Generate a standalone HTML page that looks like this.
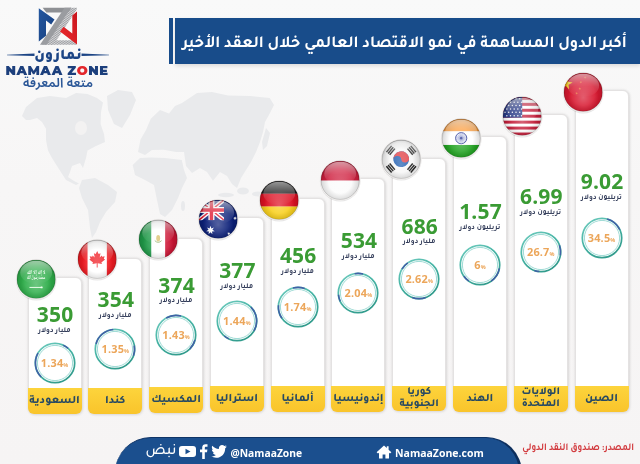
<!DOCTYPE html>
<html lang="ar"><head><meta charset="utf-8"><title>أكبر الدول المساهمة في نمو الاقتصاد العالمي</title>
<style>
*{margin:0;padding:0;box-sizing:border-box}
html,body{width:640px;height:464px;overflow:hidden}
body{position:relative;background:linear-gradient(#f9f9f9,#f7f6f6 40%,#f6f4f4);font-family:"Tajawal", "Noto Sans Arabic", "DejaVu Sans", sans-serif}
.bg{position:absolute;left:0;top:0}
.card{position:absolute;width:54px;background:#fff;border:1px solid #e4e2e2;border-radius:6px 6px 6px 6px;box-shadow:0 0 3px rgba(0,0,0,.10),1px 1px 3px rgba(0,0,0,.08)}
.lab{position:absolute;left:-1px;right:-1px;bottom:-1px;background:linear-gradient(#fdd43c,#f9c42b);border-radius:0 0 6px 6px;display:flex;align-items:center;justify-content:center;text-align:center;color:#284a62;font-weight:700;direction:rtl}
.lab .one{font-size:11.4px;line-height:14px;font-weight:800;margin-top:2px}
.lab .two{font-size:10.8px;line-height:12.3px;font-weight:800;margin-top:1.5px}
.num{position:absolute;width:80px;text-align:center;font-family:"Open Sans", "Liberation Sans", sans-serif;font-weight:700;font-size:21px;line-height:26px;color:#3a9b34;letter-spacing:.2px}
.unit{position:absolute;width:80px;text-align:center;font-size:7.5px;line-height:10px;font-weight:700;color:#333d5a;direction:rtl}
.ring{position:absolute}
.pct{position:absolute;width:60px;text-align:center;font-family:"Open Sans", "Liberation Sans", sans-serif;font-weight:700;font-size:10.9px;line-height:18px;color:#eca65a;letter-spacing:.2px}
.pct small{font-size:5.5px;font-weight:700;letter-spacing:0}
.flag{position:absolute;overflow:visible}
.title{position:absolute;left:175px;top:18px;width:465px;height:45.5px;background:#184c8a;color:#fff;direction:rtl;font-family:"Tajawal","Noto Sans Arabic","DejaVu Sans",sans-serif;font-weight:700;font-size:16.7px;line-height:45px;padding-right:13px;padding-top:3.6px;white-space:nowrap;box-shadow:0 2px 4px rgba(0,0,0,.12)}
.tt{display:inline-block;transform:scaleX(.965);transform-origin:100% 50%}
.tstripe{position:absolute;left:169px;top:18px;width:4px;height:45.5px;background:#184c8a}
.footer{position:absolute;left:115px;top:437px;width:407px;height:40px;background:#1b4f8e;border-radius:36px 36px 0 0;border-top:1.5px solid #0f3466;border-right:3px solid #0d2e5c}
.ft{position:absolute;color:#fff;font-family:"Open Sans", "Liberation Sans", sans-serif;font-weight:700;white-space:nowrap}
.src{position:absolute;left:474px;top:440px;width:160px;text-align:right;direction:rtl;color:#d23a3e;font-size:10.6px;font-weight:700;line-height:18px;white-space:nowrap;transform:scaleX(.855);transform-origin:100% 50%}
.logo-t{position:absolute;white-space:nowrap}
</style></head><body>
<svg class="bg" width="640" height="464" viewBox="0 0 640 464">
<defs>
<radialGradient id="shade" cx="50%" cy="54%" r="54%"><stop offset="0.55" stop-color="#000" stop-opacity="0"/><stop offset="0.85" stop-color="#000" stop-opacity=".12"/><stop offset="1" stop-color="#000" stop-opacity=".32"/></radialGradient>
<radialGradient id="glowB" cx="50%" cy="64%" r="40%"><stop offset="0" stop-color="#fff" stop-opacity=".30"/><stop offset="1" stop-color="#fff" stop-opacity="0"/></radialGradient>
<linearGradient id="hl" x1="0" y1="0" x2="0" y2="1"><stop offset="0" stop-color="#fff" stop-opacity=".55"/><stop offset=".55" stop-color="#fff" stop-opacity=".18"/><stop offset="1" stop-color="#fff" stop-opacity="0"/></linearGradient>
<linearGradient id="ringg" x1="0" y1="0" x2="0.6" y2="1"><stop offset="0" stop-color="#72cdc0"/><stop offset=".5" stop-color="#47b4a5"/><stop offset="1" stop-color="#329c8d"/></linearGradient>
</defs>
<g fill="#e9eaec" style="filter:blur(.6px)">
<path d="M26,107 L37,98 L50,96 L66,98 L76,93 L87.5,94 L97,98 L103,102.5 L101,112 L100.6,124 L104,134 L105,142 L96,146 L87.5,150.6 L86,158 L83,168 L80,163 L72,166 L70,172 L68,177 L74,181 L79,183.4 L76,185 L66,180 L57,166 L52,158 L48,150.6 L46,140 L46,128.8 L42,122 L37,118 L30,120 L26,120 L22,116 Z"/>
<path d="M107,96 L118,90 L132,92 L136,100 L130,115 L122,128 L114,124 L108,110 Z"/>
<path d="M82,180 L95,178 L108,185 L117,192 L115,202 L106,212 L100,222 L96,232 L92,238 L90,228 L88,210 L82,198 L79,188 Z"/>
<path d="M138,152 L140.5,139.4 L146,130 L150.8,118.8 L160,110 L169,113.6 L175,106 L182,103 L197,93 L212,92 L228,95.5 L250,96 L269.7,98 L274,105 L270,113 L265,122 L263,132 L260,142 L256,152 L251,162 L246,170 L241,178 L237,188 L232,184 L227,176 L220,172 L213,180.8 L207,172 L200,168 L192,173 L186,166 L184,152 L176,152 L163.8,149.8 L152,150 L145,155 Z"/>
<ellipse cx="226" cy="195" rx="8" ry="2.2"/><ellipse cx="243" cy="191" rx="6" ry="3.5"/><ellipse cx="258" cy="194" rx="6" ry="2.5"/><path d="M266,128 L270,133 L267,146 L263,150 L262,142 Z"/>
<path d="M132.7,165 L140,158 L150.8,157.5 L165,158 L181.8,160 L184,170 L187,178 L182,188 L178,198 L172,210 L165,217 L160,214 L157,200 L154,185 L145,180 L135,175 Z"/>
<ellipse cx="183" cy="206" rx="2" ry="5"/>
<ellipse cx="81" cy="128" rx="6" ry="7" fill="#f3f2f2"/>

</g>
</svg>
<svg style="position:absolute;left:36px;top:4px" width="44" height="44" viewBox="36 4 44 44">
<defs><pattern id="hatch" width="1.6" height="1.6" patternUnits="userSpaceOnUse" patternTransform="rotate(-57)"><rect width="1.6" height="1.6" fill="#d6d6d8"/><rect width="0.8" height="1.6" fill="#9c9ea2"/></pattern>
<linearGradient id="lgb" x1="0" y1="0" x2="1" y2="1"><stop offset="0" stop-color="#2457a0"/><stop offset="1" stop-color="#173f7e"/></linearGradient>
<linearGradient id="lgr" x1="1" y1="0" x2="0" y2="1"><stop offset="0" stop-color="#c8161e"/><stop offset="1" stop-color="#ee2b2e"/></linearGradient></defs>
<polygon points="38.8,8.3 54.5,19.6 51.2,24.4 46,20.6 46,35.8 38.8,41.5" fill="url(#lgb)"/>
<polygon points="70,7.8 77,7.8 77,9 53.5,44.8 46.2,44.8" fill="url(#hatch)"/>
<polygon points="44.5,40.2 75,40.2 77,44.8 42,44.8" fill="url(#hatch)"/>
<polygon points="42.6,7.8 71,7.8 68,12.5 46.4,12.5" fill="#8e9094"/>
<polygon points="64.5,7.8 71,7.8 46.5,44.8 40,44.8" fill="#9a9ca0"/>
<polygon points="72.3,15.6 77,11.6 77,44.6 60,31.6 63.6,26.8 72.3,33.4" fill="url(#lgr)"/>
</svg>
<div class="logo-t" style="left:34px;top:47.5px;width:48px;text-align:center;direction:rtl;font-family:'Tajawal','Noto Sans Arabic','DejaVu Sans',sans-serif;font-weight:900;font-size:15px;line-height:18px;color:#1c4585">نمازون</div>
<svg style="position:absolute;left:0;top:50px" width="112" height="10" viewBox="0 50 112 10">
<polygon points="7,54.8 34.5,53.6 34.5,56 7,55.2" fill="#1c4585"/>
<polygon points="81.5,53.6 109,54.8 109,55.2 81.5,56" fill="#1c4585"/>

</svg>
<div class="logo-t" style="left:1px;top:62px;width:112px;text-align:center;font-family:'Montserrat','Liberation Sans',sans-serif;font-weight:900;font-size:13px;line-height:16px;color:#1c3f7c;letter-spacing:0.55px">NAMAA Z<span style="color:#e3262b">O</span>NE</div>
<div class="logo-t" style="left:18px;top:74.3px;width:80px;text-align:center;direction:rtl;font-family:'Noto Sans Arabic','DejaVu Sans',sans-serif;font-weight:600;font-size:13px;line-height:18px;color:#2b5797">متعة المعرفة</div>

<div class="tstripe"></div>
<div class="title"><span class="tt">أكبر الدول المساهمة في نمو الاقتصاد العالمي خلال العقد الأخير</span></div>
<div class="card" style="left:27.50px;top:277.25px;height:136.75px"><div class="lab" style="height:25.90px"><span class="one">السعودية</span></div></div>
<div class="card" style="left:88.28px;top:257.50px;height:156.50px"><div class="lab" style="height:26.25px"><span class="one">كندا</span></div></div>
<div class="card" style="left:149.06px;top:237.50px;height:175.90px"><div class="lab" style="height:26.40px"><span class="one">المكسيك</span></div></div>
<div class="card" style="left:209.84px;top:217.00px;height:195.10px"><div class="lab" style="height:26.00px"><span class="one">استراليا</span></div></div>
<div class="card" style="left:270.62px;top:198.00px;height:213.60px"><div class="lab" style="height:25.90px"><span class="one">ألمانيا</span></div></div>
<div class="card" style="left:331.40px;top:178.00px;height:233.50px"><div class="lab" style="height:25.90px"><span class="one">إندونيسيا</span></div></div>
<div class="card" style="left:392.18px;top:157.50px;height:253.80px"><div class="lab" style="height:25.70px"><span class="two">كوريا<br>الجنوبية</span></div></div>
<div class="card" style="left:452.96px;top:136.25px;height:275.25px"><div class="lab" style="height:25.90px"><span class="one">الهند</span></div></div>
<div class="card" style="left:513.74px;top:113.75px;height:297.95px"><div class="lab" style="height:26.10px"><span class="two">الولايات<br>المتحدة</span></div></div>
<div class="card" style="left:574.52px;top:89.75px;height:322.15px"><div class="lab" style="height:26.30px"><span class="one">الصين</span></div></div>
<div class="num" style="left:15.10px;top:301.00px">350</div>
<div class="unit" style="left:14.50px;top:325.80px">مليار دولار</div>
<svg class="ring" style="left:31.50px;top:339.70px" width="46" height="46" viewBox="-23 -23 46 46"><circle r="19.7" fill="none" stroke="url(#ringg)" stroke-width="1.7"/><circle r="17.6" fill="none" stroke="#9edbd5" stroke-width="1"/><g fill="none" stroke="#4062a6" stroke-width="1.6" stroke-linecap="butt"><path d="M-13.86,13.86 A19.6,19.6 0 0 1 -16.97,-9.80"/><path d="M8.28,-17.76 A19.6,19.6 0 0 1 13.11,-14.57"/></g></svg>
<div class="pct" style="left:24.50px;top:353.70px">1.34<small>%</small></div>
<div class="num" style="left:75.88px;top:286.25px">354</div>
<div class="unit" style="left:75.28px;top:311.05px">مليار دولار</div>
<svg class="ring" style="left:92.28px;top:325.80px" width="46" height="46" viewBox="-23 -23 46 46"><circle r="19.7" fill="none" stroke="url(#ringg)" stroke-width="1.7"/><circle r="17.6" fill="none" stroke="#9edbd5" stroke-width="1"/><g fill="none" stroke="#4062a6" stroke-width="1.6" stroke-linecap="butt"><path d="M-18.93,-5.07 A19.6,19.6 0 0 1 -1.71,-19.53"/><path d="M19.30,-3.40 A19.6,19.6 0 0 1 18.42,6.70"/></g></svg>
<div class="pct" style="left:85.28px;top:339.80px">1.35<small>%</small></div>
<div class="num" style="left:136.66px;top:271.50px">374</div>
<div class="unit" style="left:136.06px;top:296.30px">مليار دولار</div>
<svg class="ring" style="left:153.06px;top:311.90px" width="46" height="46" viewBox="-23 -23 46 46"><circle r="19.7" fill="none" stroke="url(#ringg)" stroke-width="1.7"/><circle r="17.6" fill="none" stroke="#9edbd5" stroke-width="1"/><g fill="none" stroke="#4062a6" stroke-width="1.6" stroke-linecap="butt"><path d="M-9.80,-16.97 A19.6,19.6 0 0 1 5.07,-18.93"/><path d="M18.93,5.07 A19.6,19.6 0 0 1 13.86,13.86"/></g></svg>
<div class="pct" style="left:146.06px;top:325.90px">1.43<small>%</small></div>
<div class="num" style="left:197.44px;top:256.75px">377</div>
<div class="unit" style="left:196.84px;top:281.55px">مليار دولار</div>
<svg class="ring" style="left:213.84px;top:298.00px" width="46" height="46" viewBox="-23 -23 46 46"><circle r="19.7" fill="none" stroke="url(#ringg)" stroke-width="1.7"/><circle r="17.6" fill="none" stroke="#9edbd5" stroke-width="1"/><g fill="none" stroke="#4062a6" stroke-width="1.6" stroke-linecap="butt"><path d="M13.86,-13.86 A19.6,19.6 0 0 1 16.97,9.80"/><path d="M-8.28,17.76 A19.6,19.6 0 0 1 -12.60,15.01"/></g></svg>
<div class="pct" style="left:206.84px;top:312.00px">1.44<small>%</small></div>
<div class="num" style="left:258.22px;top:242.00px">456</div>
<div class="unit" style="left:257.62px;top:266.80px">مليار دولار</div>
<svg class="ring" style="left:274.62px;top:284.10px" width="46" height="46" viewBox="-23 -23 46 46"><circle r="19.7" fill="none" stroke="url(#ringg)" stroke-width="1.7"/><circle r="17.6" fill="none" stroke="#9edbd5" stroke-width="1"/><g fill="none" stroke="#4062a6" stroke-width="1.6" stroke-linecap="butt"><path d="M-5.07,-18.93 A19.6,19.6 0 0 1 6.70,-18.42"/><path d="M-16.06,11.24 A19.6,19.6 0 0 1 -19.53,-1.71"/></g></svg>
<div class="pct" style="left:267.62px;top:298.10px">1.74<small>%</small></div>
<div class="num" style="left:319.00px;top:227.25px">534</div>
<div class="unit" style="left:318.40px;top:252.05px">مليار دولار</div>
<svg class="ring" style="left:335.40px;top:270.20px" width="46" height="46" viewBox="-23 -23 46 46"><circle r="19.7" fill="none" stroke="url(#ringg)" stroke-width="1.7"/><circle r="17.6" fill="none" stroke="#9edbd5" stroke-width="1"/><g fill="none" stroke="#4062a6" stroke-width="1.6" stroke-linecap="butt"><path d="M-3.40,-19.30 A19.6,19.6 0 0 1 5.07,-18.93"/><path d="M-17.76,8.28 A19.6,19.6 0 0 1 -19.53,1.71"/></g></svg>
<div class="pct" style="left:328.40px;top:284.20px">2.04<small>%</small></div>
<div class="num" style="left:379.78px;top:212.50px">686</div>
<div class="unit" style="left:379.18px;top:237.30px">مليار دولار</div>
<svg class="ring" style="left:396.18px;top:256.30px" width="46" height="46" viewBox="-23 -23 46 46"><circle r="19.7" fill="none" stroke="url(#ringg)" stroke-width="1.7"/><circle r="17.6" fill="none" stroke="#9edbd5" stroke-width="1"/><g fill="none" stroke="#4062a6" stroke-width="1.6" stroke-linecap="butt"><path d="M6.70,18.42 A19.6,19.6 0 0 1 -6.70,18.42"/><path d="M-16.97,-9.80 A19.6,19.6 0 0 1 -11.24,-16.06"/></g></svg>
<div class="pct" style="left:389.18px;top:270.30px">2.62<small>%</small></div>
<div class="num" style="left:440.56px;top:197.75px">1.57</div>
<div class="unit" style="left:439.96px;top:222.55px">تريليون دولار</div>
<svg class="ring" style="left:456.96px;top:242.40px" width="46" height="46" viewBox="-23 -23 46 46"><circle r="19.7" fill="none" stroke="url(#ringg)" stroke-width="1.7"/><circle r="17.6" fill="none" stroke="#9edbd5" stroke-width="1"/><g fill="none" stroke="#4062a6" stroke-width="1.6" stroke-linecap="butt"><path d="M19.30,3.40 A19.6,19.6 0 0 1 11.24,16.06"/><path d="M-11.24,16.06 A19.6,19.6 0 0 1 -16.06,11.24"/></g></svg>
<div class="pct" style="left:449.96px;top:256.40px">6<small>%</small></div>
<div class="num" style="left:501.34px;top:183.00px">6.99</div>
<div class="unit" style="left:500.74px;top:207.80px">تريليون دولار</div>
<svg class="ring" style="left:517.74px;top:228.50px" width="46" height="46" viewBox="-23 -23 46 46"><circle r="19.7" fill="none" stroke="url(#ringg)" stroke-width="1.7"/><circle r="17.6" fill="none" stroke="#9edbd5" stroke-width="1"/><g fill="none" stroke="#4062a6" stroke-width="1.6" stroke-linecap="butt"><path d="M18.42,-6.70 A19.6,19.6 0 0 1 19.30,3.40"/><path d="M-1.71,19.53 A19.6,19.6 0 0 1 -6.70,18.42"/></g></svg>
<div class="pct" style="left:510.74px;top:242.50px">26.7<small>%</small></div>
<div class="num" style="left:562.12px;top:168.25px">9.02</div>
<div class="unit" style="left:561.52px;top:193.05px">تريليون دولار</div>
<svg class="ring" style="left:578.52px;top:214.60px" width="46" height="46" viewBox="-23 -23 46 46"><circle r="19.7" fill="none" stroke="url(#ringg)" stroke-width="1.7"/><circle r="17.6" fill="none" stroke="#9edbd5" stroke-width="1"/><g fill="none" stroke="#4062a6" stroke-width="1.6" stroke-linecap="butt"><path d="M5.07,-18.93 A19.6,19.6 0 0 1 17.76,-8.28"/></g></svg>
<div class="pct" style="left:571.52px;top:228.60px">34.5<small>%</small></div>
<svg class="flag" style="left:14.00px;top:257.05px" width="44.4" height="44.4" viewBox="-3 -3 46 46"><defs><clipPath id="fc_sa"><circle cx="20" cy="20" r="20"/></clipPath></defs><circle cx="20" cy="21" r="21" fill="rgba(0,0,0,.10)"/><circle cx="20" cy="20" r="21.2" fill="#f3f1f0"/><g clip-path="url(#fc_sa)"><rect width="40" height="40" fill="#2eae4a"/><text x="20" y="14.2" font-size="5.6" fill="#f4fff4" text-anchor="middle" textLength="19" lengthAdjust="spacingAndGlyphs" font-family='"Noto Naskh Arabic","DejaVu Sans",serif' font-weight="700">لا إله إلا الله</text><text x="20" y="19.4" font-size="5.6" fill="#f4fff4" text-anchor="middle" textLength="19" lengthAdjust="spacingAndGlyphs" font-family='"Noto Naskh Arabic","DejaVu Sans",serif' font-weight="700">محمد رسول الله</text><rect x="13" y="28" width="12.5" height="1" fill="#e8ffe8"/><rect x="24.5" y="27.5" width="2.2" height="2" rx=".6" fill="#e8ffe8"/><rect width="40" height="40" fill="url(#glowB)"/><rect width="40" height="40" fill="url(#shade)"/><ellipse cx="20" cy="13" rx="16.5" ry="12" fill="url(#hl)"/></g><circle cx="20" cy="20" r="20" fill="none" stroke="rgba(0,0,0,.25)" stroke-width=".6"/></svg>
<svg class="flag" style="left:74.78px;top:237.30px" width="44.4" height="44.4" viewBox="-3 -3 46 46"><defs><clipPath id="fc_ca"><circle cx="20" cy="20" r="20"/></clipPath></defs><circle cx="20" cy="21" r="21" fill="rgba(0,0,0,.10)"/><circle cx="20" cy="20" r="21.2" fill="#f3f1f0"/><g clip-path="url(#fc_ca)"><rect width="40" height="40" fill="#fff"/><rect width="10" height="40" fill="#f01b22"/><rect x="30" width="10" height="40" fill="#f01b22"/><path d="M20.00,11.40 L21.55,14.67 L23.44,13.81 L22.58,18.28 L24.73,16.13 L25.16,17.42 L27.74,16.99 L26.88,19.57 L28.17,20.43 L24.30,23.44 L24.99,24.99 L20.52,24.30 L20.52,28.60 L19.48,28.60 L19.48,24.30 L15.01,24.99 L15.70,23.44 L11.83,20.43 L13.12,19.57 L12.26,16.99 L14.84,17.42 L15.27,16.13 L17.42,18.28 L16.56,13.81 L18.45,14.67Z" fill="#f01b22"/><rect width="40" height="40" fill="url(#glowB)"/><rect width="40" height="40" fill="url(#shade)"/><ellipse cx="20" cy="13" rx="16.5" ry="12" fill="url(#hl)"/></g><circle cx="20" cy="20" r="20" fill="none" stroke="rgba(0,0,0,.25)" stroke-width=".6"/></svg>
<svg class="flag" style="left:135.56px;top:217.30px" width="44.4" height="44.4" viewBox="-3 -3 46 46"><defs><clipPath id="fc_mx"><circle cx="20" cy="20" r="20"/></clipPath></defs><circle cx="20" cy="21" r="21" fill="rgba(0,0,0,.10)"/><circle cx="20" cy="20" r="21.2" fill="#f3f1f0"/><g clip-path="url(#fc_mx)"><rect width="40" height="40" fill="#fff"/><rect width="12.8" height="40" fill="#1f9a48"/><rect x="27.2" width="12.8" height="40" fill="#cc1434"/><ellipse cx="20" cy="19" rx="2" ry="3.4" fill="#d6b85a" opacity=".9"/><path d="M16.5,21.5 Q20,25 23.5,21.5" stroke="#7aa34a" stroke-width=".9" fill="none"/><rect width="40" height="40" fill="url(#glowB)"/><rect width="40" height="40" fill="url(#shade)"/><ellipse cx="20" cy="13" rx="16.5" ry="12" fill="url(#hl)"/></g><circle cx="20" cy="20" r="20" fill="none" stroke="rgba(0,0,0,.25)" stroke-width=".6"/></svg>
<svg class="flag" style="left:196.34px;top:196.80px" width="44.4" height="44.4" viewBox="-3 -3 46 46"><defs><clipPath id="fc_au"><circle cx="20" cy="20" r="20"/></clipPath></defs><circle cx="20" cy="21" r="21" fill="rgba(0,0,0,.10)"/><circle cx="20" cy="20" r="21.2" fill="#f3f1f0"/><g clip-path="url(#fc_au)"><rect width="40" height="40" fill="#0b1f78"/><g><clipPath id="ujc"><rect width="26" height="21"/></clipPath><g clip-path="url(#ujc)"><path d="M0,0 L26,21 M26,0 L0,21" stroke="#fff" stroke-width="4.4"/><path d="M0,0 L26,21 M26,0 L0,21" stroke="#e0152e" stroke-width="1.5"/><path d="M13,0 V21 M0,10.5 H26" stroke="#fff" stroke-width="6.2"/><path d="M13,0 V21 M0,10.5 H26" stroke="#e0152e" stroke-width="3.6"/></g></g><path d="M12.00,26.90 L12.90,29.63 L15.60,28.63 L14.02,31.04 L16.48,32.52 L13.62,32.79 L14.00,35.64 L12.00,33.57 L10.00,35.64 L10.38,32.79 L7.52,32.52 L9.98,31.04 L8.40,28.63 L11.10,29.63Z" fill="#fff"/><path d="M37.50,17.00 L37.89,18.19 L39.06,17.75 L38.38,18.80 L39.45,19.45 L38.20,19.56 L38.37,20.80 L37.50,19.90 L36.63,20.80 L36.80,19.56 L35.55,19.45 L36.62,18.80 L35.94,17.75 L37.11,18.19Z" fill="#fff"/><path d="M31.00,33.20 L31.35,34.27 L32.41,33.88 L31.79,34.82 L32.75,35.40 L31.63,35.51 L31.78,36.62 L31.00,35.81 L30.22,36.62 L30.37,35.51 L29.25,35.40 L30.21,34.82 L29.59,33.88 L30.65,34.27Z" fill="#fff"/><rect width="40" height="40" fill="url(#glowB)"/><rect width="40" height="40" fill="url(#shade)"/><ellipse cx="20" cy="13" rx="16.5" ry="12" fill="url(#hl)"/></g><circle cx="20" cy="20" r="20" fill="none" stroke="rgba(0,0,0,.25)" stroke-width=".6"/></svg>
<svg class="flag" style="left:257.12px;top:177.80px" width="44.4" height="44.4" viewBox="-3 -3 46 46"><defs><clipPath id="fc_de"><circle cx="20" cy="20" r="20"/></clipPath></defs><circle cx="20" cy="21" r="21" fill="rgba(0,0,0,.10)"/><circle cx="20" cy="20" r="21.2" fill="#f3f1f0"/><g clip-path="url(#fc_de)"><rect width="40" height="13.4" fill="#1a1a1a"/><rect y="13.3" width="40" height="13.4" fill="#dd1022"/><rect y="26.6" width="40" height="13.4" fill="#f8cf1a"/><rect width="40" height="40" fill="url(#glowB)"/><rect width="40" height="40" fill="url(#shade)"/><ellipse cx="20" cy="13" rx="16.5" ry="12" fill="url(#hl)"/></g><circle cx="20" cy="20" r="20" fill="none" stroke="rgba(0,0,0,.25)" stroke-width=".6"/></svg>
<svg class="flag" style="left:317.90px;top:157.80px" width="44.4" height="44.4" viewBox="-3 -3 46 46"><defs><clipPath id="fc_id"><circle cx="20" cy="20" r="20"/></clipPath></defs><circle cx="20" cy="21" r="21" fill="rgba(0,0,0,.10)"/><circle cx="20" cy="20" r="21.2" fill="#f3f1f0"/><g clip-path="url(#fc_id)"><rect width="40" height="20.5" fill="#cf1f3e"/><rect y="20.5" width="40" height="19.5" fill="#fbfbfb"/><rect width="40" height="40" fill="url(#glowB)"/><rect width="40" height="40" fill="url(#shade)"/><ellipse cx="20" cy="13" rx="16.5" ry="12" fill="url(#hl)"/></g><circle cx="20" cy="20" r="20" fill="none" stroke="rgba(0,0,0,.25)" stroke-width=".6"/></svg>
<svg class="flag" style="left:378.68px;top:137.30px" width="44.4" height="44.4" viewBox="-3 -3 46 46"><defs><clipPath id="fc_kr"><circle cx="20" cy="20" r="20"/></clipPath></defs><circle cx="20" cy="21" r="21" fill="rgba(0,0,0,.10)"/><circle cx="20" cy="20" r="21.2" fill="#f3f1f0"/><g clip-path="url(#fc_kr)"><rect width="40" height="40" fill="#f7f7f7"/><g transform="rotate(-10 20 20)"><circle cx="20" cy="20" r="8.2" fill="#1d5cb0"/><path d="M11.8,20 A8.2,8.2 0 0 1 28.2,20 A4.1,4.1 0 0 1 20,20 A4.1,4.1 0 0 0 11.8,20Z" fill="#e0393f"/></g><g transform="rotate(-50 20 20)"><rect x="15.8" y="2.8" width="8.4" height="1.5" fill="#1e1e1e"/><rect x="15.8" y="5.0" width="8.4" height="1.5" fill="#1e1e1e"/><rect x="15.8" y="7.2" width="8.4" height="1.5" fill="#1e1e1e"/></g><g transform="rotate(50 20 20)"><rect x="15.8" y="2.8" width="8.4" height="1.5" fill="#1e1e1e"/><rect x="15.8" y="5.0" width="8.4" height="1.5" fill="#1e1e1e"/><rect x="15.8" y="7.2" width="8.4" height="1.5" fill="#1e1e1e"/></g><g transform="rotate(130 20 20)"><rect x="15.8" y="2.8" width="8.4" height="1.5" fill="#1e1e1e"/><rect x="15.8" y="5.0" width="8.4" height="1.5" fill="#1e1e1e"/><rect x="15.8" y="7.2" width="8.4" height="1.5" fill="#1e1e1e"/></g><g transform="rotate(230 20 20)"><rect x="15.8" y="2.8" width="8.4" height="1.5" fill="#1e1e1e"/><rect x="15.8" y="5.0" width="8.4" height="1.5" fill="#1e1e1e"/><rect x="15.8" y="7.2" width="8.4" height="1.5" fill="#1e1e1e"/></g><rect width="40" height="40" fill="url(#glowB)"/><rect width="40" height="40" fill="url(#shade)"/><ellipse cx="20" cy="13" rx="16.5" ry="12" fill="url(#hl)"/></g><circle cx="20" cy="20" r="20" fill="none" stroke="rgba(0,0,0,.25)" stroke-width=".6"/></svg>
<svg class="flag" style="left:439.46px;top:116.05px" width="44.4" height="44.4" viewBox="-3 -3 46 46"><defs><clipPath id="fc_in"><circle cx="20" cy="20" r="20"/></clipPath></defs><circle cx="20" cy="21" r="21" fill="rgba(0,0,0,.10)"/><circle cx="20" cy="20" r="21.2" fill="#f3f1f0"/><g clip-path="url(#fc_in)"><rect width="40" height="13" fill="#fb9b3a"/><rect y="12.9" width="40" height="14.2" fill="#fff"/><rect y="27" width="40" height="13" fill="#1fa21f"/><circle cx="20" cy="20" r="5.8" fill="none" stroke="#22308f" stroke-width="1"/><g stroke="#3a4aa8" stroke-width=".35"><line x1="20" y1="20" x2="25.80" y2="20.00"/><line x1="20" y1="20" x2="25.60" y2="21.50"/><line x1="20" y1="20" x2="25.02" y2="22.90"/><line x1="20" y1="20" x2="24.10" y2="24.10"/><line x1="20" y1="20" x2="22.90" y2="25.02"/><line x1="20" y1="20" x2="21.50" y2="25.60"/><line x1="20" y1="20" x2="20.00" y2="25.80"/><line x1="20" y1="20" x2="18.50" y2="25.60"/><line x1="20" y1="20" x2="17.10" y2="25.02"/><line x1="20" y1="20" x2="15.90" y2="24.10"/><line x1="20" y1="20" x2="14.98" y2="22.90"/><line x1="20" y1="20" x2="14.40" y2="21.50"/><line x1="20" y1="20" x2="14.20" y2="20.00"/><line x1="20" y1="20" x2="14.40" y2="18.50"/><line x1="20" y1="20" x2="14.98" y2="17.10"/><line x1="20" y1="20" x2="15.90" y2="15.90"/><line x1="20" y1="20" x2="17.10" y2="14.98"/><line x1="20" y1="20" x2="18.50" y2="14.40"/><line x1="20" y1="20" x2="20.00" y2="14.20"/><line x1="20" y1="20" x2="21.50" y2="14.40"/><line x1="20" y1="20" x2="22.90" y2="14.98"/><line x1="20" y1="20" x2="24.10" y2="15.90"/><line x1="20" y1="20" x2="25.02" y2="17.10"/><line x1="20" y1="20" x2="25.60" y2="18.50"/></g><circle cx="20" cy="20" r="1.2" fill="#22308f"/><rect width="40" height="40" fill="url(#glowB)"/><rect width="40" height="40" fill="url(#shade)"/><ellipse cx="20" cy="13" rx="16.5" ry="12" fill="url(#hl)"/></g><circle cx="20" cy="20" r="20" fill="none" stroke="rgba(0,0,0,.25)" stroke-width=".6"/></svg>
<svg class="flag" style="left:500.24px;top:93.55px" width="44.4" height="44.4" viewBox="-3 -3 46 46"><defs><clipPath id="fc_us"><circle cx="20" cy="20" r="20"/></clipPath></defs><circle cx="20" cy="21" r="21" fill="rgba(0,0,0,.10)"/><circle cx="20" cy="20" r="21.2" fill="#f3f1f0"/><g clip-path="url(#fc_us)"><rect width="40" height="40" fill="#fff"/><rect y="0.00" width="40" height="3.08" fill="#c41e3a"/><rect y="6.15" width="40" height="3.08" fill="#c41e3a"/><rect y="12.31" width="40" height="3.08" fill="#c41e3a"/><rect y="18.46" width="40" height="3.08" fill="#c41e3a"/><rect y="24.62" width="40" height="3.08" fill="#c41e3a"/><rect y="30.77" width="40" height="3.08" fill="#c41e3a"/><rect y="36.92" width="40" height="3.08" fill="#c41e3a"/><rect width="20" height="21.54" fill="#283a86"/><circle cx="2.2" cy="2.0" r=".75" fill="#fff"/><circle cx="6.0" cy="2.0" r=".75" fill="#fff"/><circle cx="9.8" cy="2.0" r=".75" fill="#fff"/><circle cx="13.6" cy="2.0" r=".75" fill="#fff"/><circle cx="17.4" cy="2.0" r=".75" fill="#fff"/><circle cx="4.1" cy="5.5" r=".75" fill="#fff"/><circle cx="7.9" cy="5.5" r=".75" fill="#fff"/><circle cx="11.7" cy="5.5" r=".75" fill="#fff"/><circle cx="15.5" cy="5.5" r=".75" fill="#fff"/><circle cx="19.3" cy="5.5" r=".75" fill="#fff"/><circle cx="2.2" cy="9.0" r=".75" fill="#fff"/><circle cx="6.0" cy="9.0" r=".75" fill="#fff"/><circle cx="9.8" cy="9.0" r=".75" fill="#fff"/><circle cx="13.6" cy="9.0" r=".75" fill="#fff"/><circle cx="17.4" cy="9.0" r=".75" fill="#fff"/><circle cx="4.1" cy="12.5" r=".75" fill="#fff"/><circle cx="7.9" cy="12.5" r=".75" fill="#fff"/><circle cx="11.7" cy="12.5" r=".75" fill="#fff"/><circle cx="15.5" cy="12.5" r=".75" fill="#fff"/><circle cx="19.3" cy="12.5" r=".75" fill="#fff"/><circle cx="2.2" cy="16.0" r=".75" fill="#fff"/><circle cx="6.0" cy="16.0" r=".75" fill="#fff"/><circle cx="9.8" cy="16.0" r=".75" fill="#fff"/><circle cx="13.6" cy="16.0" r=".75" fill="#fff"/><circle cx="17.4" cy="16.0" r=".75" fill="#fff"/><circle cx="4.1" cy="19.5" r=".75" fill="#fff"/><circle cx="7.9" cy="19.5" r=".75" fill="#fff"/><circle cx="11.7" cy="19.5" r=".75" fill="#fff"/><circle cx="15.5" cy="19.5" r=".75" fill="#fff"/><circle cx="19.3" cy="19.5" r=".75" fill="#fff"/><rect width="40" height="40" fill="url(#glowB)"/><rect width="40" height="40" fill="url(#shade)"/><ellipse cx="20" cy="13" rx="16.5" ry="12" fill="url(#hl)"/></g><circle cx="20" cy="20" r="20" fill="none" stroke="rgba(0,0,0,.25)" stroke-width=".6"/></svg>
<svg class="flag" style="left:561.02px;top:69.55px" width="44.4" height="44.4" viewBox="-3 -3 46 46"><defs><clipPath id="fc_cn"><circle cx="20" cy="20" r="20"/></clipPath></defs><circle cx="20" cy="21" r="21" fill="rgba(0,0,0,.10)"/><circle cx="20" cy="20" r="21.2" fill="#f3f1f0"/><g clip-path="url(#fc_cn)"><rect width="40" height="40" fill="#d81830"/><path d="M3.65,4.50 L4.30,9.26 L9.04,10.08 L4.71,12.18 L5.39,16.93 L2.06,13.47 L-2.25,15.58 L0.02,11.35 L-3.33,7.90 L1.40,8.75Z" fill="#ffd21a"/><path d="M22.48,3.48 L22.44,4.50 L23.40,4.85 L22.42,5.13 L22.39,6.15 L21.82,5.30 L20.84,5.58 L21.47,4.78 L20.90,3.94 L21.85,4.29Z" fill="#f7b040" opacity=".6"/><path d="M18.50,8.53 L18.12,9.47 L18.90,10.12 L17.88,10.05 L17.50,11.00 L17.26,10.01 L16.24,9.94 L17.11,9.40 L16.86,8.41 L17.64,9.07Z" fill="#f7b040" opacity=".6"/><path d="M16.50,15.00 L16.81,15.97 L17.83,15.97 L17.01,16.56 L17.32,17.53 L16.50,16.93 L15.68,17.53 L15.99,16.56 L15.17,15.97 L16.19,15.97Z" fill="#f7b040" opacity=".6"/><path d="M13.68,19.88 L13.64,20.90 L14.60,21.25 L13.62,21.53 L13.59,22.55 L13.02,21.70 L12.04,21.98 L12.67,21.18 L12.10,20.34 L13.05,20.69Z" fill="#f7b040" opacity=".6"/><rect width="40" height="40" fill="url(#glowB)"/><rect width="40" height="40" fill="url(#shade)"/><ellipse cx="20" cy="13" rx="16.5" ry="12" fill="url(#hl)"/></g><circle cx="20" cy="20" r="20" fill="none" stroke="rgba(0,0,0,.25)" stroke-width=".6"/></svg>
<div class="footer"></div>
<div class="ft" style="left:145px;top:443.5px;width:32px;text-align:center;direction:rtl;font-family:'Tajawal','Noto Sans Arabic','DejaVu Sans',sans-serif;font-weight:500;font-size:15px;line-height:16px">نبض</div>
<svg style="position:absolute;left:179px;top:446px" width="17" height="11" viewBox="0 0 17 11"><rect x="0" y="0" width="17" height="11" rx="3" fill="#fff"/><polygon points="6.5,2.8 11.5,5.5 6.5,8.2" fill="#1b4f8e"/></svg>
<svg style="position:absolute;left:199px;top:443.5px" width="9" height="15" viewBox="0 0 9 15"><path d="M5.8,15 V8.3 H8 L8.4,5.6 H5.8 V4 C5.8,3.2 6.1,2.7 7.2,2.7 H8.5 V0.3 C8.2,0.25 7.4,0.2 6.5,0.2 C4.5,0.2 3.2,1.4 3.2,3.6 V5.6 H1 V8.3 H3.2 V15 Z" fill="#fff"/></svg>
<svg style="position:absolute;left:211px;top:445px" width="16" height="13" viewBox="0 0 24 20"><path d="M24,2.4c-.9.4-1.8.6-2.8.8 1-.6 1.8-1.6 2.2-2.7-1 .6-2 1-3.1 1.2C19.4.7 18.1.1 16.7.1c-2.7 0-4.9 2.2-4.9 4.9 0 .4 0 .8.1 1.1C7.8 5.9 4.2 4 1.7 1 1.3 1.7 1 2.6 1 3.5c0 1.7.9 3.2 2.2 4.1-.8 0-1.6-.2-2.2-.6v.1c0 2.4 1.7 4.4 3.9 4.8-.4.1-.8.2-1.3.2-.3 0-.6 0-.9-.1.6 2 2.4 3.4 4.6 3.4-1.7 1.3-3.8 2.1-6.1 2.1-.4 0-.8 0-1.2-.1 2.2 1.4 4.8 2.2 7.5 2.2 9.1 0 14-7.5 14-14v-.6c1-.7 1.8-1.6 2.5-2.6z" fill="#fff"/></svg>
<div class="ft" style="left:230.5px;top:444.5px;font-size:10.3px;line-height:16px">@NamaaZone</div>
<svg style="position:absolute;left:376px;top:444.5px" width="16" height="14" viewBox="0 0 16 14"><path d="M8,0.6 L0.6,7.2 L2,8.6 L3,7.7 V13.6 H6.6 V9.6 H9.4 V13.6 H13 V7.7 L14,8.6 L15.4,7.2 L12.6,4.7 V1.2 H10.8 V3.1 Z" fill="#fff"/></svg>
<div class="ft" style="left:395px;top:444.8px;font-size:10.5px;line-height:16px">NamaaZone.com</div>

<div class="src">المصدر: صندوق النقد الدولي</div>
</body></html>
